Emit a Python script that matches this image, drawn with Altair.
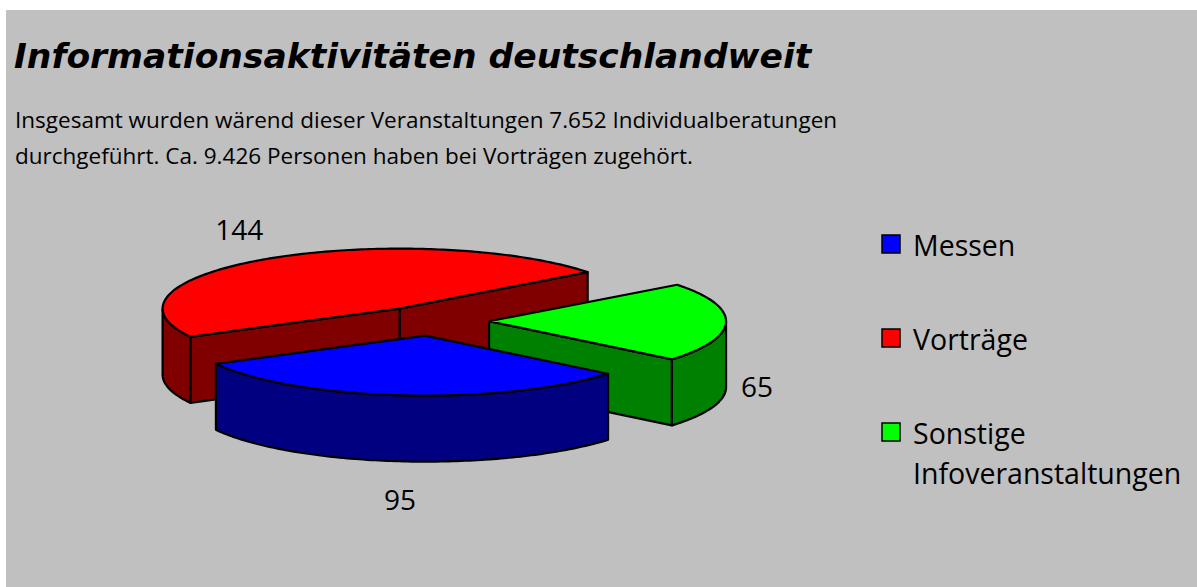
import numpy as np
import pandas as pd
import altair as alt

# ---- data ----
categories = ["Messen", "Vorträge", "Sonstige Infoveranstaltungen"]
values = [95, 144, 65]
legend_labels = ["Messen", "Vorträge", "Sonstige\nInfoveranstaltungen"]
top_colors = ["#0000FF", "#FF0000", "#00FF00"]
side_colors = ["#000080", "#800000", "#008000"]

title_text = "Informationsaktivitäten deutschlandweit"
subtitle_lines = [
    "Insgesamt wurden wärend dieser Veranstaltungen 7.652 Individualberatungen",
    "durchgeführt. Ca. 9.426 Personen haben bei Vorträgen zugehört.",
]

# ---- layout parameters (pixels) ----
W, H = 1197, 587
CX, CY = 431, 321          # pie centre
RX, RY = 237, 60           # ellipse radii
DEPTH = 66                 # pie thickness
EXPLODE = 0.245            # explosion (fraction of radius)
START = 320.5              # start angle (deg, math convention), slices go clockwise
LRX, LRY_UP, LRY_DOWN = 252, 91, 101   # label distance
FONT = "Open Sans"

total = float(sum(values))
rad = np.deg2rad

slices = []
cur = START
for i, v in enumerate(values):
    span = v / total * 360.0
    hi, lo = cur, cur - span
    cur = lo
    m = (lo + hi) / 2
    ax = CX + EXPLODE * RX * np.cos(rad(m))
    ay = CY - EXPLODE * RY * np.sin(rad(m))
    slices.append(dict(i=i, lo=lo, hi=hi, mid=m, ax=ax, ay=ay))


def arc(s, a0, a1, dz=0.0):
    n = max(2, int(abs(a1 - a0)) + 2)
    a = np.linspace(a0, a1, n)
    return [(s["ax"] + RX * np.cos(rad(t)), s["ay"] - RY * np.sin(rad(t)) + dz) for t in a]


rows = []
pid = 0


def add_poly(layer, pts):
    global pid
    pts = list(pts) + [pts[0]]
    for k, (x, y) in enumerate(pts):
        rows.append(dict(layer=layer, pid=pid, k=k, x=x, y=y))
    pid += 1


for s in slices:
    i = s["i"]
    apex = (s["ax"], s["ay"])
    apex_b = (s["ax"], s["ay"] + DEPTH)
    # radial face at lo
    if np.cos(rad(s["lo"])) > 0:
        c_t = arc(s, s["lo"], s["lo"])[0]
        add_poly(f"{i}_side", [apex, c_t, (c_t[0], c_t[1] + DEPTH), apex_b])
    # radial face at hi
    if np.cos(rad(s["hi"])) < 0:
        c_t = arc(s, s["hi"], s["hi"])[0]
        add_poly(f"{i}_side", [apex, c_t, (c_t[0], c_t[1] + DEPTH), apex_b])
    # outer visible side (front half)
    for kk in (-1, 0, 1):
        a0 = max(s["lo"], 180 + 360 * kk)
        a1 = min(s["hi"], 360 + 360 * kk)
        if a1 > a0:
            top = arc(s, a0, a1)
            bot = arc(s, a1, a0, DEPTH)
            add_poly(f"{i}_side", top + bot)
    # top face
    add_poly(f"{i}_top", [apex] + arc(s, s["lo"], s["hi"]))

poly = pd.DataFrame(rows)

# labels
lab_rows = []
for s in slices:
    c, sn = np.cos(rad(s["mid"])), np.sin(rad(s["mid"]))
    lx = s["ax"] + LRX * c
    if sn >= 0:
        ly = s["ay"] - LRY_UP * sn
    else:
        ly = s["ay"] - LRY_DOWN * sn + DEPTH
    al = "left" if c > 0.3 else ("right" if c < -0.3 else "center")
    lab_rows.append(dict(label=str(values[s["i"]]), x=lx, y=ly, anchor=al))
labels = pd.DataFrame(lab_rows)

xs = alt.Scale(domain=[0, W], range=[0, W])
ys = alt.Scale(domain=[0, H], range=[0, H])
X = alt.X("x:Q", scale=xs, axis=None)
Y = alt.Y("y:Q", scale=ys, axis=None)

one = pd.DataFrame({"a": [0]})
layers = []
layers.append(
    alt.Chart(one).mark_rect(color="#C0C0C0").encode(
        x=alt.value(6), x2=alt.value(W), y=alt.value(10), y2=alt.value(H)
    )
)
layers.append(
    alt.Chart(one).mark_text(
        text=title_text, font="DejaVu Sans", fontSize=34.5, fontWeight="bold", fontStyle="italic",
        align="left", baseline="alphabetic", color="black",
    ).encode(x=alt.value(14), y=alt.value(68))
)
for j, line in enumerate(subtitle_lines):
    layers.append(
        alt.Chart(one).mark_text(
            text=line, font=FONT, fontSize=22.5, align="left", baseline="alphabetic", color="black",
        ).encode(x=alt.value(15), y=alt.value(128 + 36 * j))
    )

order = sorted(slices, key=lambda s: -np.sin(rad(s["mid"])))
for s in order:
    i = s["i"]
    for part, col in (("side", side_colors[i]), ("top", top_colors[i])):
        sub = poly[poly["layer"] == f"{i}_{part}"]
        if len(sub) == 0:
            continue
        layers.append(
            alt.Chart(sub).mark_line(
                fill=col, stroke="black", strokeWidth=2.2, strokeJoin="round"
            ).encode(x=X, y=Y, detail="pid:N", order="k:Q")
        )

for al in ("left", "right", "center"):
    sub = labels[labels["anchor"] == al]
    if len(sub) == 0:
        continue
    layers.append(
        alt.Chart(sub).mark_text(
            font=FONT, fontSize=28, align=al, baseline="middle", color="black"
        ).encode(x=X, y=Y, text="label:N")
    )

# legend
leg = pd.DataFrame({"idx": [0, 1, 2], "cat": categories, "lab": legend_labels, "col": top_colors})
LY = alt.Y("idx:Q", scale=alt.Scale(domain=[0, 2], range=[244, 432]), axis=None)
layers.append(
    alt.Chart(leg).mark_square(size=324, stroke="black", strokeWidth=1.5, opacity=1).encode(
        x=alt.value(891), y=LY,
        fill=alt.Fill("col:N", scale=None),
    )
)
layers.append(
    alt.Chart(leg).mark_text(
        font=FONT, fontSize=28.5, align="left", baseline="alphabetic", dy=12,
        lineBreak="\n", lineHeight=40, color="black",
    ).encode(x=alt.value(913), y=LY, text="lab:N")
)

chart = (
    alt.layer(*layers)
    .resolve_scale(y="independent", x="independent")
    .properties(width=W, height=H, background="white", padding=0,
                autosize=alt.AutoSizeParams(type="none"))
    .configure_view(stroke=None)
)

chart.save("out.html", embed_options={"renderer": "svg", "actions": False})
